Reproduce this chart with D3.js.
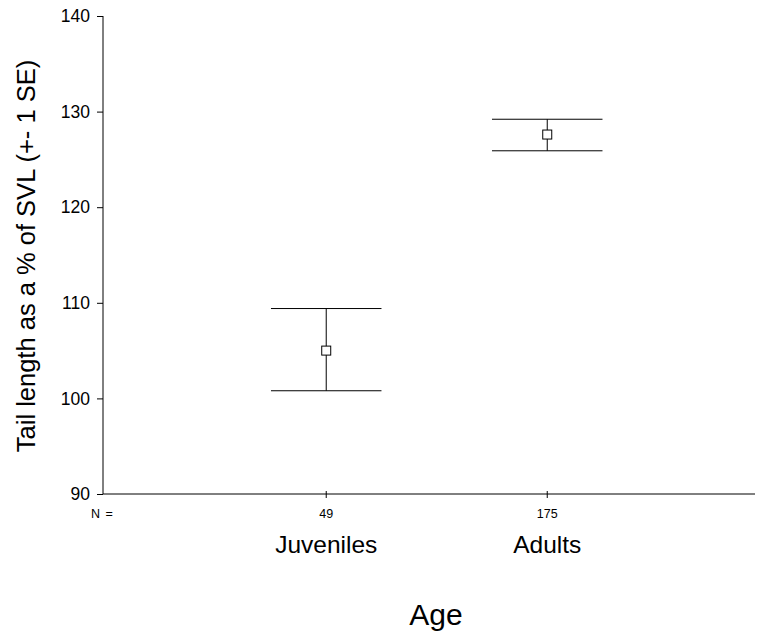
<!DOCTYPE html>
<html>
<head>
<meta charset="utf-8">
<script src="https://cdn.jsdelivr.net/npm/d3@7"></script>
<style>
  body { margin: 0; background: #fff; }
  svg { font-family: "Liberation Sans", Arial, sans-serif; }
</style>
</head>
<body>
<div id="chart"></div>
<script>
// data
const categories = ["Juveniles", "Adults"];
const counts = [49, 175];
const means = [105.0, 127.6];
const upper = [109.4, 129.2];
const lower = [100.8, 125.9];
const yTicks = [90, 100, 110, 120, 130, 140];

const width = 758,
  height = 632;

const svg = d3
  .select("#chart")
  .append("svg")
  .attr("width", width)
  .attr("height", height);

// scales: category index on x, percent on y
const x = d3.scaleLinear().domain([-1.01, 1.94]).range([103, 755]);
const y = d3.scaleLinear().domain([90, 140]).range([494, 16]);

// y axis
const yAxis = svg
  .append("g")
  .attr("transform", `translate(${x(-1.01)},0)`)
  .call(d3.axisLeft(y).tickValues(yTicks).tickSize(6).tickPadding(7));
yAxis.select(".domain").attr("stroke", "#000").attr("d", `M0,${y(140)}V${y(90)}`);
yAxis.selectAll("text").attr("font-size", 17.5).attr("fill", "#000");

// x axis line with small crossing ticks
svg
  .append("line")
  .attr("x1", x(-1.01))
  .attr("x2", x(1.94))
  .attr("y1", y(90))
  .attr("y2", y(90))
  .attr("stroke", "#000");

svg
  .append("g")
  .selectAll("line")
  .data(categories)
  .enter()
  .append("line")
  .attr("x1", (d, i) => x(i))
  .attr("x2", (d, i) => x(i))
  .attr("y1", y(90) - 3)
  .attr("y2", y(90) + 4)
  .attr("stroke", "#000");

// N = row
svg
  .append("text")
  .attr("x", 91)
  .attr("y", 518)
  .attr("font-size", 12.5)
  .attr("word-spacing", 2)
  .text("N =");

svg
  .append("g")
  .selectAll("text")
  .data(counts)
  .enter()
  .append("text")
  .attr("x", (d, i) => x(i))
  .attr("y", 518)
  .attr("text-anchor", "middle")
  .attr("font-size", 12.5)
  .text(d => d);

// category labels
svg
  .append("g")
  .selectAll("text")
  .data(categories)
  .enter()
  .append("text")
  .attr("x", (d, i) => x(i))
  .attr("y", 553)
  .attr("text-anchor", "middle")
  .attr("font-size", 24.5)
  .text(d => d);

// axis titles
svg
  .append("text")
  .attr("x", 436)
  .attr("y", 625)
  .attr("text-anchor", "middle")
  .attr("font-size", 30)
  .text("Age");

svg
  .append("text")
  .attr("transform", "translate(35,256) rotate(-90)")
  .attr("text-anchor", "middle")
  .attr("font-size", 25.5)
  .text("Tail length as a % of SVL (+- 1 SE)");

// error bars
const bars = svg
  .append("g")
  .selectAll("g")
  .data(categories)
  .enter()
  .append("g");

bars
  .append("line")
  .attr("x1", (d, i) => x(i))
  .attr("x2", (d, i) => x(i))
  .attr("y1", (d, i) => y(upper[i]))
  .attr("y2", (d, i) => y(lower[i]))
  .attr("stroke", "#000");

bars
  .append("line")
  .attr("x1", (d, i) => x(i - 0.25))
  .attr("x2", (d, i) => x(i + 0.25))
  .attr("y1", (d, i) => y(upper[i]))
  .attr("y2", (d, i) => y(upper[i]))
  .attr("stroke", "#000");

bars
  .append("line")
  .attr("x1", (d, i) => x(i - 0.25))
  .attr("x2", (d, i) => x(i + 0.25))
  .attr("y1", (d, i) => y(lower[i]))
  .attr("y2", (d, i) => y(lower[i]))
  .attr("stroke", "#000");

// mean markers
bars
  .append("rect")
  .attr("x", (d, i) => x(i) - 4.5)
  .attr("y", (d, i) => y(means[i]) - 4.5)
  .attr("width", 9)
  .attr("height", 9)
  .attr("fill", "#fff")
  .attr("stroke", "#000");
</script>
</body>
</html>
